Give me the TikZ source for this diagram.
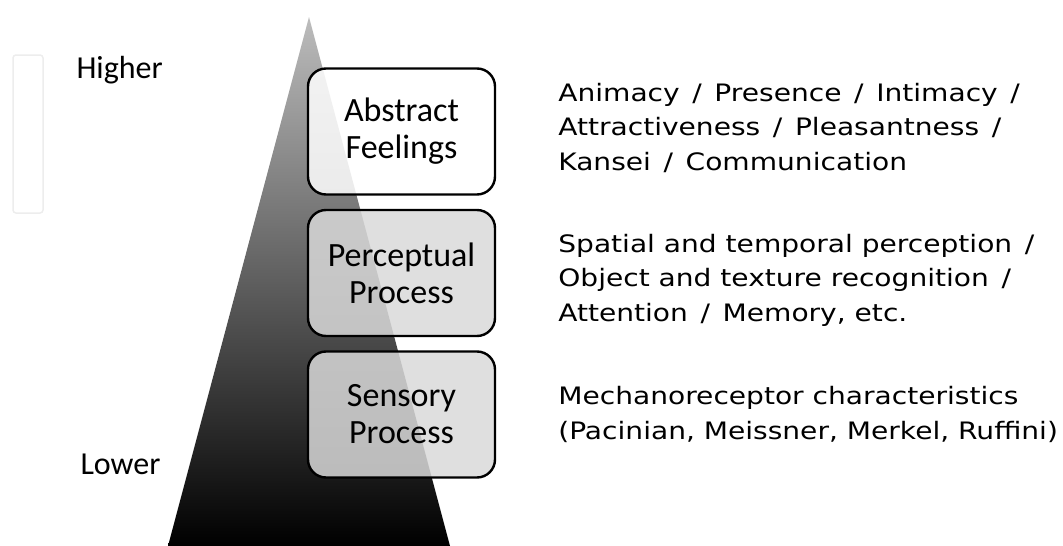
\documentclass[tikz,border=0pt]{standalone}
\usepackage{fontspec}
\setmainfont{Carlito}
\newfontfamily\descfont{DejaVu Sans}
\newcommand{\sepsl}{\hspace{.45em}/\hspace{.45em}}
\usetikzlibrary{positioning}

\begin{document}
\begin{tikzpicture}[x=1pt,y=-1pt,node distance=141.5pt,
      box/.style={draw,line width=2.4pt,rounded corners=18pt,minimum width=187pt,
        minimum height=126pt,align=center,font=\fontsize{34}{37}\selectfont,
        fill opacity=0.85,text opacity=1},
      light box/.style={box,fill=white}, grey box/.style={box,fill=black!15},
      side text/.style={anchor=west,align=left,xscale=1.17,
        font=\descfont\fontsize{24}{34.5}\selectfont},
      level/.style={anchor=base west,font=\fontsize{32}{37}\selectfont}]

    \useasboundingbox (0,0) rectangle (1063,546);

    % pyramid
    \coordinate (apex) at (309,17);
    \coordinate (bl) at (168,546);
    \coordinate (br) at (450,546);
    \shade[top color=black!26, bottom color=black] (apex) -- (br) -- (bl) -- cycle;

    \node[draw=black!7,line width=1.5pt,rounded corners=3pt,minimum width=30pt,
      minimum height=158pt] (frame) at (28,134) {};
    \node[level] (hi) at (73,78) {Higher};
    \node[level] (lo) at (77,474) {Lower};

    \node[light box] (abs) at (401.5,131.5) {Abstract\\Feelings};
    \node[grey box] (per) [below of=abs] {Perceptual\\Process};
    \node[grey box] (sen) [below of=per] {Sensory\\Process};

    \node[side text,yshift=4pt] (abstxt) [right=58pt of abs] {Animacy\sepsl Presence\sepsl Intimacy\sepsl\\
      Attractiveness\sepsl Pleasantness\sepsl\\Kansei\sepsl Communication};
    \node[side text,yshift=-7pt] (pertxt) [right=58pt of per] {Spatial and temporal perception\sepsl\\
      Object and texture recognition\sepsl\\Attention\sepsl Memory, etc.};
    \node[side text] (sentxt) [right=58pt of sen] {Mechanoreceptor characteristics\\
      (Pacinian, Meissner, Merkel, Ruffini)};
\end{tikzpicture}
\end{document}
